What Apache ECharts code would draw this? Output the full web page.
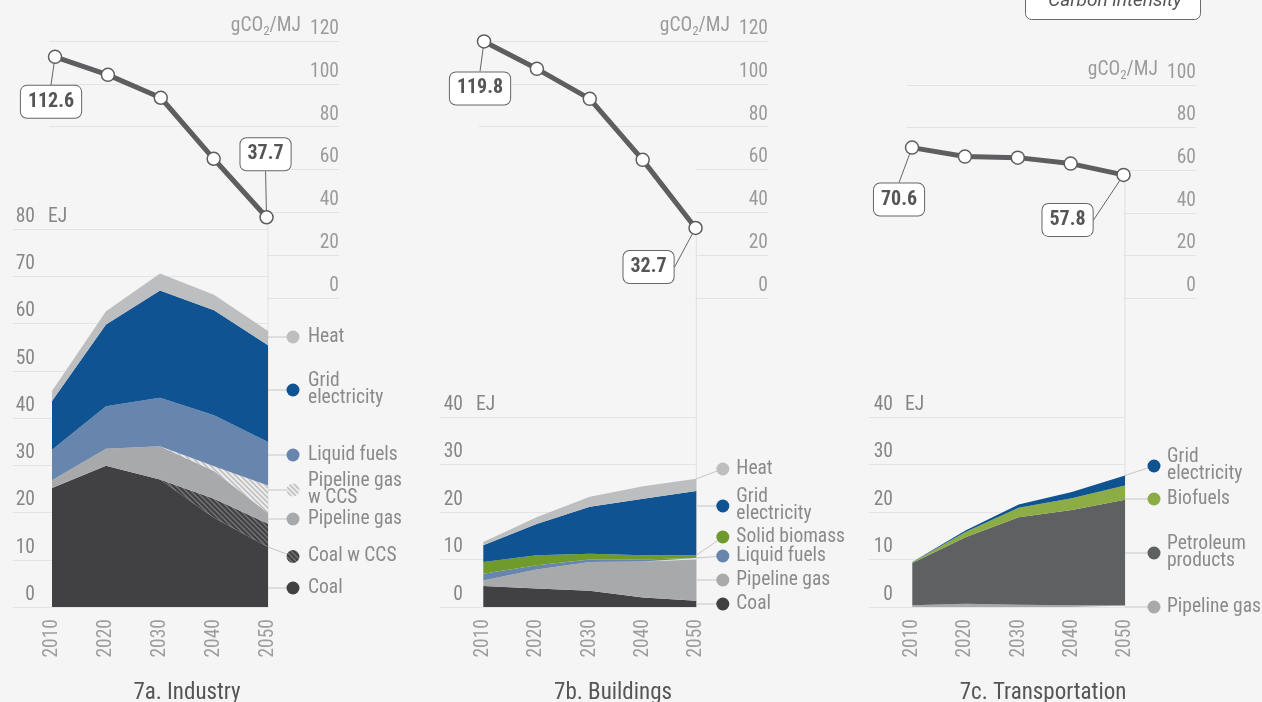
<!DOCTYPE html>
<html><head><meta charset="utf-8">
<script src="https://cdn.jsdelivr.net/npm/echarts@6/dist/echarts.min.js"></script>
<style>html,body{margin:0;padding:0;background:#f5f5f5}#c{width:1262px;height:702px}</style>
</head><body><div id="c"></div>
<script>
// ---------- DATA ----------
const years = [2010, 2020, 2030, 2040, 2050];
// carbon intensity, gCO2/MJ
const ciIndustry  = [112.6, 104.2, 93.5, 65.0, 37.7];
const ciBuildings = [119.8, 107.0, 93.0, 64.5, 32.7];
const ciTransport = [70.6, 66.4, 65.9, 63.1, 57.8];
// 7a Industry, EJ
const indCoal    = [25.2, 29.9, 27.0, 18.9, 12.7];
const indCoalCCS = [0, 0, 0, 4.0, 4.9];
const indGas     = [1.6, 3.6, 7.0, 5.9, 2.3];
const indGasCCS  = [0, 0, 0, 1.0, 5.8];
const indLiquid  = [6.5, 9.0, 10.3, 10.8, 9.2];
const indGrid    = [10.3, 17.3, 22.7, 22.2, 20.5];
const indHeat    = [2.1, 2.8, 3.6, 3.3, 3.0];
// 7b Buildings, EJ
const bldCoal    = [4.4, 3.9, 3.4, 2.0, 1.3];
const bldGas     = [1.2, 4.0, 6.1, 7.6, 8.7];
const bldLiquid  = [1.4, 0.9, 0.5, 0.4, 0.3];
const bldBiomass = [2.5, 2.1, 1.2, 0.9, 0.6];
const bldGrid    = [3.5, 6.6, 9.9, 11.9, 13.5];
const bldHeat    = [0.7, 1.4, 2.1, 2.6, 2.6];
// 7c Transportation, EJ
const trnGas       = [0.35, 0.7, 0.5, 0.35, 0.3];
const trnPetroleum = [8.9, 14.0, 18.4, 20.05, 22.3];
const trnBiofuels  = [0.15, 1.1, 2.0, 2.5, 3.0];
const trnGrid      = [0.1, 0.3, 0.7, 1.3, 2.1];
// tick values
const ciTicks = [0, 20, 40, 60, 80, 100, 120];
const titles = ['7a. Industry', '7b. Buildings', '7c. Transportation'];

// ---------- STYLE ----------
const FF = '"Liberation Sans Narrow","Roboto Condensed","DejaVu Sans Condensed",Roboto,sans-serif';
const LINE = '#5e5e60';
const FS = 19.5;
const C = {coal:'#414143', gas:'#a8a9ab', liquid:'#6886ad', grid:'#0f5393', heat:'#bdbec0',
           biomass:'#6f9a2c', petroleum:'#5f6062', biofuels:'#8cac45'};
function hatch(bg, fg) {
  const s = 5, c = document.createElement('canvas'); c.width = c.height = s;
  const g = c.getContext('2d'); g.fillStyle = bg; g.fillRect(0, 0, s, s);
  g.strokeStyle = fg; g.lineWidth = 1.3; g.beginPath();
  g.moveTo(-1, -1); g.lineTo(s + 1, s + 1);
  g.moveTo(-1, s - 1); g.lineTo(1, s + 1);
  g.moveTo(s - 1, -1); g.lineTo(s + 1, 1);
  g.stroke();
  return {image: c, repeat: 'repeat'};
}
const hatchDark = hatch('#414143', '#77777a');
const hatchLight = hatch('#ececec', '#b9b9bb');

const panels = [
  {ci: ciIndustry, ciMax: 120, eMax: 80,
   series: [['Coal', indCoal, C.coal], ['Coal w CCS', indCoalCCS, hatchDark], ['Pipeline gas', indGas, C.gas],
            ['Pipeline gas w CCS', indGasCCS, hatchLight], ['Liquid fuels', indLiquid, C.liquid],
            ['Grid electricity', indGrid, C.grid], ['Heat', indHeat, C.heat]]},
  {ci: ciBuildings, ciMax: 120, eMax: 40,
   series: [['Coal', bldCoal, C.coal], ['Pipeline gas', bldGas, C.gas], ['Liquid fuels', bldLiquid, C.liquid],
            ['Solid biomass', bldBiomass, C.biomass], ['Grid electricity', bldGrid, C.grid], ['Heat', bldHeat, C.heat]]},
  {ci: ciTransport, ciMax: 100, eMax: 40,
   series: [['Pipeline gas', trnGas, C.gas], ['Petroleum products', trnPetroleum, C.petroleum],
            ['Biofuels', trnBiofuels, C.biofuels], ['Grid electricity', trnGrid, C.grid]]}
];

// ---------- LAYOUT ----------
const ciGrids = [{left:50, top:41, width:289, height:257}, {left:479, top:41, width:289, height:257}, {left:907, top:85, width:289, height:213}];
const frameGrids = [{left:13, top:229, width:255, height:378}, {left:440, top:417, width:256.3, height:190}, {left:869, top:417, width:256, height:190}];
const dataGrids = [{left:52, top:229, width:216, height:378}, {left:483.3, top:417, width:213, height:190}, {left:912.3, top:417, width:212.7, height:190}];
const enLabMargin = [22, 23, 24], enNamePad = [35, 36, 36];
const ciXMin = 2009.05, ciXMax = 2063.7, fullGridFrom = 80;
const labelOffsets = [{0:[-4, 45], 4:[-1, -63]}, {0:[-4, 47], 4:[-47, 39]}, {0:[-13, 52], 4:[-56, 45]}];
const legendY = [
  {'Heat':337, 'Grid electricity':390, 'Liquid fuels':455, 'Pipeline gas w CCS':490, 'Pipeline gas':519, 'Coal w CCS':556.5, 'Coal':588},
  {'Heat':469, 'Grid electricity':506, 'Solid biomass':537, 'Liquid fuels':556, 'Pipeline gas':580, 'Coal':604},
  {'Grid electricity':466, 'Biofuels':499, 'Petroleum products':553, 'Pipeline gas':607}
];
const legendText = {'Grid electricity':'Grid\nelectricity', 'Pipeline gas w CCS':'Pipeline gas\nw CCS', 'Petroleum products':'Petroleum\nproducts'};
const legDot = [25, 26.5, 29], legTxt = [40, 40, 42];
const titleX = [187, 613, 1043];
const SYM_R = 6.5;

function leaderLayout(offs) {
  return function (p) {
    const o = offs[p.dataIndex];
    if (!o) return {};
    const cx = p.rect.x + p.rect.width / 2, cy = p.rect.y + p.rect.height / 2;
    const L = {x: p.labelRect.x + o[0], y: p.labelRect.y + o[1], w: p.labelRect.width, h: p.labelRect.height};
    let a, b;
    if (cx >= L.x + 4 && cx <= L.x + L.w - 4) {
      if (L.y > cy) { a = [cx, cy + SYM_R]; b = [cx, L.y]; }
      else { a = [cx, cy - SYM_R]; b = [cx, L.y + L.h]; }
    } else {
      b = [cx > L.x + L.w ? L.x + L.w : L.x, L.y > cy ? L.y + 9 : L.y + L.h - 9];
      const dx = b[0] - cx, dy = b[1] - cy, d = Math.hypot(dx, dy);
      a = [cx + dx / d * SYM_R, cy + dy / d * SYM_R];
    }
    return {dx: o[0], dy: o[1], labelLinePoints: [a, [(a[0] + b[0]) / 2, (a[1] + b[1]) / 2], b]};
  };
}

const grid = [], xAxis = [], yAxis = [], series = [];
const noLine = {axisLine:{show:false}, axisTick:{show:false}};
// grids 0-2: carbon intensity
panels.forEach((P, i) => {
  grid.push(Object.assign({containLabel:false, outerBoundsMode:'none'}, ciGrids[i]));
  xAxis.push({type:'value', gridIndex:i, min:ciXMin, max:ciXMax, show:false});
  yAxis.push(Object.assign({type:'value', gridIndex:i, min:0, max:P.ciMax, interval:20, position:'right',
    splitLine:{show:false},
    axisLabel:{inside:true, margin:0, verticalAlign:'bottom', padding:[0,0,3,0], lineHeight:18,
      color:'#9b9b9b', fontSize:FS, fontFamily:FF}}, noLine));
});
// grids 3-5: energy frame (gridlines + tick labels)
panels.forEach((P, i) => {
  const gi = 3 + i;
  grid.push(Object.assign({containLabel:false, outerBoundsMode:'none'}, frameGrids[i]));
  xAxis.push({type:'value', gridIndex:gi, min:0, max:1, show:false});
  yAxis.push(Object.assign({type:'value', gridIndex:gi, min:0, max:P.eMax, interval:10, position:'left',
    splitLine:{lineStyle:{color:'#e4e4e4', width:1}},
    axisLabel:{inside:true, margin:enLabMargin[i], align:'right', verticalAlign:'bottom', padding:[0,0,3,0],
      lineHeight:18, color:'#868686', fontSize:FS, fontFamily:FF},
    name:'EJ', nameLocation:'end', nameGap:0, nameMoveOverlap:false,
    nameTextStyle:{align:'left', verticalAlign:'bottom', padding:[0,0,3,enNamePad[i]], lineHeight:18,
      color:'#868686', fontSize:FS, fontFamily:FF}}, noLine));
});
// grids 6-8: energy data
panels.forEach((P, i) => {
  const gi = 6 + i;
  grid.push(Object.assign({containLabel:false, outerBoundsMode:'none'}, dataGrids[i]));
  xAxis.push(Object.assign({type:'category', gridIndex:gi, data:years, boundaryGap:false, splitLine:{show:false},
    axisLabel:{interval:0, rotate:90, margin:12, color:'#9d9d9d', fontSize:FS, fontFamily:FF}}, noLine));
  yAxis.push({type:'value', gridIndex:gi, min:0, max:P.eMax, show:false});
});
// carbon-intensity gridlines + lines
panels.forEach((P, i) => {
  series.push({type:'line', xAxisIndex:i, yAxisIndex:i, data:[], z:1, silent:true,
    markLine:{silent:true, symbol:'none', z:1, animation:false, label:{show:false},
      lineStyle:{color:'#e3e3e3', width:1, type:'solid'},
      data: ciTicks.filter(v => v <= P.ciMax).map(v => [{coord:[v >= fullGridFrom ? ciXMin : years[years.length-1], v]}, {coord:[ciXMax, v]}])}});
  const offs = labelOffsets[i];
  series.push({type:'line', xAxisIndex:i, yAxisIndex:i, z:5, silent:true, symbol:'circle', symbolSize:2 * SYM_R,
    lineStyle:{color:LINE, width:5}, itemStyle:{color:'#fff', borderColor:LINE, borderWidth:1.5},
    data: years.map((y, k) => { const it = {value:[y, P.ci[k]]}; if (offs[k]) it.label = {show:true}; return it; }),
    label:{show:false, position:'inside', formatter:p => p.value[1].toFixed(1), fontFamily:FF, fontWeight:'bold',
      fontSize:20, color:'#555', backgroundColor:'#fff', borderColor:'#666', borderWidth:1, borderRadius:6, padding:[7,7,5,7]},
    labelLine:{show:true, lineStyle:{color:'#666', width:1}},
    labelLayout: leaderLayout(offs),
    emphasis:{disabled:true}});
});
// stacked areas
panels.forEach((P, i) => {
  P.series.forEach(([name, vals, color]) => {
    series.push({type:'line', name, xAxisIndex:6+i, yAxisIndex:6+i, stack:'s'+i, z:2, silent:true,
      symbol:'none', lineStyle:{width:0}, areaStyle:{color, opacity:1},
      data: vals.slice(), emphasis:{disabled:true}});
  });
});

const chart = echarts.init(document.getElementById('c'), null, {renderer:'canvas'});
chart.setOption({backgroundColor:'#f5f5f5', animation:false, grid, xAxis, yAxis, series});

// ---------- annotations derived from the scales ----------
const graphic = [];
const last = years.length - 1;
panels.forEach((P, i) => {
  const top = chart.convertToPixel({gridIndex:i}, [years[last], P.ci[last]]);
  const bot = chart.convertToPixel({gridIndex:6+i}, [last, 0]);
  graphic.push({type:'line', silent:true, z:0, shape:{x1:bot[0], y1:top[1] + 6, x2:bot[0], y2:bot[1]},
    style:{stroke:'#e0e0e0', lineWidth:1}});
  // unit name at top of carbon axis
  const nm = chart.convertToPixel({gridIndex:i}, [ciXMax, P.ciMax]);
  graphic.push({type:'text', silent:true, z:3, x:nm[0] - 38, y:nm[1] - 3,
    style:{text:'{n|gCO}{s|2}{n|/MJ}', textAlign:'right', textVerticalAlign:'bottom',
      rich:{n:{fontSize:FS, fontFamily:FF, fill:'#9b9b9b', lineHeight:24},
            s:{fontSize:13, fontFamily:FF, fill:'#9b9b9b', lineHeight:13, verticalAlign:'bottom'}}}});
  let cum = 0;
  P.series.forEach(([name, vals, color]) => {
    const lo = cum, hi = cum + vals[last]; cum = hi;
    const pLo = chart.convertToPixel({gridIndex:6+i}, [last, lo]);
    const pHi = chart.convertToPixel({gridIndex:6+i}, [last, hi]);
    const y = legendY[i][name];
    const ay = Math.min(Math.max(y, pHi[1]), pLo[1]);
    const x0 = pLo[0];
    graphic.push({type:'line', silent:true, z:3, shape:{x1:x0, y1:ay, x2:x0 + legDot[i], y2:y},
      style:{stroke:'#c6c6c6', lineWidth:1}});
    graphic.push({type:'circle', silent:true, z:4, shape:{cx:x0 + legDot[i], cy:y, r:6.5}, style:{fill:color}});
    graphic.push({type:'text', silent:true, z:4, x:x0 + legTxt[i], y:y,
      style:{text:legendText[name] || name, fill:'#8a8a8a', font:FS + 'px ' + FF, lineHeight:17,
        textAlign:'left', textVerticalAlign:'middle'}});
  });
  graphic.push({type:'text', silent:true, x:titleX[i], y:693,
    style:{text:titles[i], fill:'#555', font:'23px ' + FF, textAlign:'center', textVerticalAlign:'middle'}});
});
graphic.push({type:'rect', silent:true, shape:{x:1025.5, y:-16, width:175, height:35.5, r:6},
  style:{fill:'#fff', stroke:'#6a6a6a', lineWidth:1}});
graphic.push({type:'text', silent:true, x:1115, y:1,
  style:{text:'Carbon intensity', fill:'#555', font:'italic 19px Roboto, sans-serif', textAlign:'center', textVerticalAlign:'middle'}});
chart.setOption({graphic});
</script></body></html>
